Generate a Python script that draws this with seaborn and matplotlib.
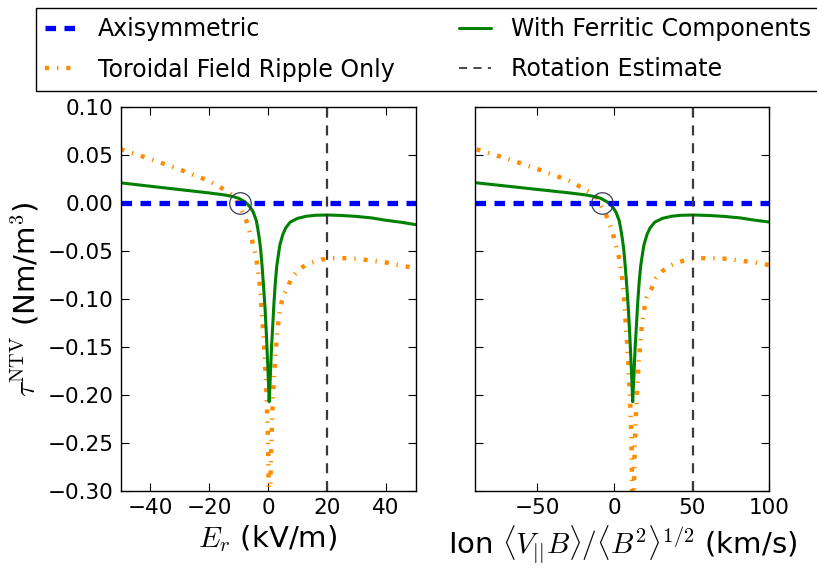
import matplotlib
matplotlib.use("Agg")
import matplotlib.pyplot as plt
import seaborn as sns
from matplotlib.lines import Line2D

# ---------------- data ----------------
# With Ferritic Components (green)
er_green = [-50, -40, -30, -20, -15, -12, -10, -8, -7, -6, -5, -4, -3.5, -3, -2.5, -2,
            -1.5, -1, -0.5, 0, 0.4, 0.8, 1.2, 1.6, 2, 2.5, 3, 4, 5, 6, 7.5, 10, 13, 16,
            20, 25, 30, 35, 40, 45, 50]
v_green = [-89, -69, -49, -29, -19, -13, -9, -5, -3, -1, 1, 3, 4, 5, 6, 7,
           8, 9, 10, 11, 11.8, 12.6, 13.4, 14.2, 15, 16, 17, 19, 21, 23, 26, 31, 37, 43,
           51, 61, 71, 81, 91, 101, 111]
tau_green = [0.021, 0.0175, 0.014, 0.0105, 0.0085, 0.0068, 0.005, 0.0015, -0.001, -0.0045,
             -0.0095, -0.018, -0.026, -0.036, -0.048, -0.066, -0.087, -0.110, -0.140, -0.175,
             -0.207, -0.180, -0.150, -0.128, -0.105, -0.082, -0.065, -0.044, -0.033, -0.026,
             -0.020, -0.0160, -0.0138, -0.0128, -0.0125, -0.013, -0.014, -0.0155, -0.018,
             -0.020, -0.0225]

# Toroidal Field Ripple Only (orange)
er_orange = [-50, -45, -40, -35, -30, -25, -20, -16, -13, -11, -9, -7.5, -6, -5, -4, -3,
             -2.5, -2, -1.5, -1, -0.5, 0, 0.5, 1, 1.5, 2, 2.5, 3, 3.5, 4, 5, 6.5, 8, 10,
             12.5, 15, 18, 22, 26, 30, 35, 40, 45, 50]
v_orange = [-89, -79, -69, -59, -49, -39, -29, -21, -15, -11, -7, -4, -1, 1, 3, 5,
            6, 7, 8, 9, 10, 11, 12, 13, 14, 15, 16, 17, 18, 19, 21, 24, 27, 31,
            36, 41, 47, 55, 63, 71, 81, 91, 101, 111]
tau_orange = [0.056, 0.051, 0.046, 0.0405, 0.035, 0.029, 0.023, 0.016, 0.0105, 0.005,
              -0.0075, -0.017, -0.032, -0.044, -0.057, -0.079, -0.095, -0.118, -0.140,
              -0.167, -0.200, -0.245, -0.360, -0.262, -0.215, -0.183, -0.160, -0.140,
              -0.124, -0.112, -0.098, -0.089, -0.078, -0.071, -0.065, -0.062, -0.059,
              -0.0575, -0.0575, -0.058, -0.060, -0.062, -0.065, -0.068]

# Axisymmetric (blue)
er_axi = [-50, 50]
v_axi = [-90, 100]
tau_axi = [0.0, 0.0]

# Rotation estimate and crossing marker
rotation_er = 20
rotation_v = 51
crossing_er = [-9.5]
crossing_v = [-8.0]
crossing_tau = [0.0]

left_xticks = [-40, -20, 0, 20, 40]
right_xticks = [-50, 0, 50, 100]
yticks = [0.10, 0.05, 0.00, -0.05, -0.10, -0.15, -0.20, -0.25, -0.30]

labels = ["Axisymmetric", "Toroidal Field Ripple Only",
          "With Ferritic Components", "Rotation Estimate"]

# ---------------- style ----------------
sns.set_theme(style="ticks")
plt.rcParams["font.family"] = ["DejaVu Sans"]
plt.rcParams.update({
    "mathtext.fontset": "cm",
    "xtick.direction": "in", "ytick.direction": "in",
    "xtick.top": True, "ytick.right": True,
    "xtick.major.size": 5.5, "ytick.major.size": 5.5,
    "xtick.major.width": 0.8, "ytick.major.width": 0.8,
    "axes.edgecolor": "black", "axes.linewidth": 1.0,
    "xtick.color": "black", "ytick.color": "black",
    "text.color": "black", "axes.labelcolor": "black",
})

BLUE = "#0000ff"
GREEN = "#008000"
ORANGE = "#ff8c00"
GREY = "#3a3a3a"
blue_ls = (0, (2.0, 1.6))
orange_ls = (0, (0.9, 1.8, 0.3, 1.8))
rot_ls = (0, (4.5, 3.5))

fig = plt.figure(figsize=(8.17, 5.75), dpi=100)
axL = fig.add_axes([120.5 / 817, 1 - 491 / 575, 295 / 817, 384 / 575])
axR = fig.add_axes([475 / 817, 1 - 491 / 575, 294.3 / 817, 384 / 575])


def draw(ax, x_axi, x_or, x_gr, x_rot, x_cross, xlim, xticks):
    sns.lineplot(x=x_or, y=tau_orange, ax=ax, color=ORANGE, linewidth=3.2,
                 linestyle=orange_ls, errorbar=None, estimator=None, sort=False)
    sns.lineplot(x=x_gr, y=tau_green, ax=ax, color=GREEN, linewidth=2.2,
                 errorbar=None, estimator=None, sort=False)
    sns.lineplot(x=x_axi, y=tau_axi, ax=ax, color=BLUE, linewidth=3.8,
                 linestyle=blue_ls, errorbar=None, estimator=None, sort=False)
    ax.axvline(x_rot, color=GREY, linewidth=1.6, linestyle=rot_ls)
    ax.plot(x_cross, crossing_tau, marker="o", markersize=15.5, markerfacecolor="none",
            markeredgecolor="#3c3c5a", markeredgewidth=0.9, linestyle="none")
    ax.set_xlim(*xlim)
    ax.set_ylim(-0.30, 0.10)
    ax.set_xticks(xticks)
    ax.set_yticks(yticks)
    ax.tick_params(labelsize=15.5, pad=5)
    for s in ax.spines.values():
        s.set_visible(True)
        s.set_color("black")


draw(axL, er_axi, er_orange, er_green, rotation_er, crossing_er, (-50, 50), left_xticks)
draw(axR, v_axi, v_orange, v_green, rotation_v, crossing_v, (-90, 100), right_xticks)

axL.set_yticklabels([f"{t:.2f}".replace("-", "\u2212") for t in yticks])
axR.set_yticklabels([])

axL.set_xlabel(r"$E_r$ (kV/m)", fontsize=21, labelpad=4)
axR.set_xlabel(r"Ion $\langle V_{||}B\rangle/\langle B^2\rangle^{1/2}$ (km/s)", fontsize=21,
               labelpad=4)
axL.set_ylabel(r"$\tau^{\rm NTV}$ (Nm/m$^3$)", fontsize=21, labelpad=4)

handles = [
    Line2D([], [], color=BLUE, linewidth=3.8, linestyle=blue_ls),
    Line2D([], [], color=ORANGE, linewidth=3.2, linestyle=orange_ls),
    Line2D([], [], color=GREEN, linewidth=2.2),
    Line2D([], [], color=GREY, linewidth=1.3, linestyle=rot_ls),
]
leg = fig.legend(handles, labels, loc="upper left", bbox_to_anchor=(36 / 817, 1 - 8 / 575),
                 ncol=2, frameon=True, fancybox=False, edgecolor="black", framealpha=1,
                 fontsize=17, handlelength=1.36, handletextpad=0.85, columnspacing=2.75,
                 labelspacing=0.68, borderaxespad=0, borderpad=0.4)
leg.get_frame().set_linewidth(1.0)

fig.savefig("out.png", dpi=100)
